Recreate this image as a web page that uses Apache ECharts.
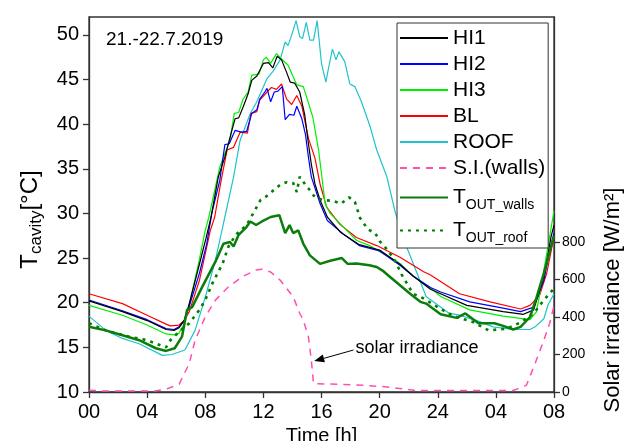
<!DOCTYPE html>
<html><head><meta charset="utf-8">
<script src="https://cdn.jsdelivr.net/npm/echarts@6/dist/echarts.min.js"></script>
<style>html,body{margin:0;padding:0;background:#fff}#c{width:628px;height:441px}</style>
</head><body><div id="c"></div>
<script>
const xTickLabels = ['00','04','08','12','16','20','24','04','08'];
const leftTicks = [10,15,20,25,30,35,40,45,50];
const rightTicks = [0,200,400,600,800];
const dateLabel = '21.-22.7.2019';
const annotText = 'solar irradiance';
const arrowTip = [15.5, 165];
const arrowTail = [18.2, 224];

const hi1 = [[0,20.2],[2.3,19.0],[4,18.0],[5.3,17.0],[5.85,16.9],[6.2,17.2],[6.55,18.0],[6.9,19.9],[7.55,24.0],[8.05,27.2],[8.4,29.6],[8.9,34.1],[9.35,36.3],[9.8,39.1],[10.05,40.6],[10.3,40.7],[10.6,41.9],[10.95,43.4],[11.2,44.9],[11.55,45.4],[12.0,46.8],[12.35,46.9],[12.65,46.3],[12.95,47.6],[13.25,47.2],[13.6,45.8],[13.85,44.7],[14.15,44.6],[14.5,43.6],[14.85,41.0],[15.1,37.8],[15.3,35.5],[15.55,33.3],[15.9,31.5],[16.4,29.6],[17.3,27.9],[18.6,26.5],[20.0,25.9],[21.4,24.3],[22.3,23.0],[23.5,21.5],[24.2,21.0],[26.0,19.7],[28.5,19.0],[29.9,18.7],[30.6,19.2],[31.3,22.9],[31.8,27.4],[32,28.7]];
const hi2 = [[0,20.3],[2.3,19.1],[4,18.1],[5.3,17.1],[5.85,17.0],[6.2,17.3],[6.55,18.0],[6.9,19.6],[7.6,23.3],[8.1,26.6],[8.45,30.0],[9.0,33.7],[9.35,37.7],[9.65,37.8],[10.05,39.3],[10.5,39.1],[10.85,39.2],[11.2,41.2],[11.55,41.6],[11.75,42.8],[12.1,43.6],[12.25,44.0],[12.5,42.5],[12.75,43.6],[13.0,43.7],[13.3,44.2],[13.5,40.5],[13.8,41.1],[14.1,41.0],[14.3,42.0],[14.65,40.6],[14.9,38.8],[15.1,36.3],[15.3,34.1],[15.9,31.1],[16.4,29.2],[17.5,27.7],[18.6,26.4],[20.0,25.8],[21.4,24.2],[22.3,23.0],[23.5,21.7],[24.2,21.2],[26.2,20.1],[28.5,19.4],[29.7,19.0],[30.6,19.5],[31.3,22.5],[31.8,26.5],[32,27.8]];
const hi3 = [[0,19.7],[2.3,18.6],[4,17.5],[5.3,16.5],[5.85,16.4],[6.2,16.6],[6.55,17.6],[6.9,19.8],[7.55,24.5],[8.0,28.1],[8.25,29.6],[9.0,35.2],[9.7,38.2],[10.0,41.2],[10.3,41.3],[10.6,42.8],[10.95,43.6],[11.2,45.5],[11.7,45.6],[12.0,47.2],[12.2,47.5],[12.5,46.8],[12.9,47.9],[13.25,47.3],[13.7,46.6],[14.05,45.3],[14.3,44.4],[14.75,44.2],[15.4,40.8],[15.8,37.1],[16.25,31.1],[16.6,30.0],[17.5,28.5],[18.4,27.0],[19.3,26.4],[21.4,24.4],[22.3,23.0],[23.7,21.4],[24.2,20.7],[26.2,19.2],[28.5,18.5],[30.35,18.1],[30.8,19.0],[31.3,23.6],[31.7,27.4],[32,30.3]];
const bl = [[0,21.0],[2.3,19.9],[4,18.6],[5.3,17.6],[5.6,17.4],[6.2,17.5],[6.55,18.0],[6.9,19.0],[7.6,22.5],[8.35,28.1],[8.65,29.6],[9.05,33.3],[9.5,37.1],[9.95,37.4],[10.4,39.1],[10.9,39.0],[11.15,41.2],[11.55,41.4],[11.75,42.7],[12.25,43.6],[12.55,44.1],[12.9,43.9],[13.25,44.5],[13.6,42.8],[13.95,42.2],[14.3,43.2],[14.65,42.0],[15.1,38.4],[15.55,36.2],[15.9,33.3],[16.35,30.7],[17.25,28.8],[18.4,27.3],[19.8,26.4],[21.4,25.1],[23.0,23.5],[23.5,23.1],[25.5,21.0],[27.6,20.1],[29.7,19.3],[30.35,19.7],[31.0,20.8],[31.5,23.3],[31.9,26.6],[32,27.2]];
const roof = [[0,18.5],[1.15,16.9],[2.3,16.0],[3.45,15.4],[5.05,14.1],[5.7,14.2],[6.6,14.7],[7.3,16.9],[8.0,20.6],[8.7,24.8],[9.15,28.1],[9.35,29.6],[9.95,34.1],[10.4,38.2],[11.1,41.2],[11.55,42.5],[12.25,45.1],[12.7,46.0],[13.15,47.2],[13.5,49.2],[13.7,48.8],[13.95,50.0],[14.25,51.6],[14.5,49.8],[14.7,49.6],[14.95,51.4],[15.2,49.4],[15.45,49.4],[15.7,51.6],[16.0,46.8],[16.3,44.7],[16.5,46.4],[16.75,48.4],[17.0,47.2],[17.2,48.1],[17.6,47.0],[17.95,44.5],[18.3,44.2],[18.75,42.5],[19.35,39.7],[19.8,37.1],[20.5,34.1],[21.05,30.3],[21.6,27.3],[22.5,23.6],[23.2,20.7],[24.8,18.8],[25.5,18.6],[26.7,18.0],[27.8,17.3],[29.2,17.0],[30.35,17.0],[30.7,17.3],[31.3,18.2],[31.6,19.8],[32,21.0]];
const solarWalls = [[0,10],[1,5],[4.5,5],[5.3,15],[6.2,41],[6.9,152],[7.3,276],[8.0,401],[8.7,490],[9.6,561],[10.55,615],[11.5,651],[11.9,655],[12.5,640],[13.15,597],[14.05,508],[14.5,420],[14.75,383],[15.1,294],[15.3,170],[15.45,45],[17.5,40],[19.0,35],[20.5,27],[22.5,8],[29.2,8],[30.1,36],[30.7,152],[31.3,276],[31.7,366],[32,460]];
const tOutWalls = [[0,17.3],[1.15,16.9],[2.3,16.35],[3.45,15.8],[4.6,14.9],[5.3,14.6],[5.9,14.9],[6.4,16.2],[6.75,19.2],[7.1,19.5],[7.8,21.8],[8.7,24.6],[9.25,26.6],[9.7,26.8],[9.95,26.3],[10.3,27.6],[10.85,28.5],[11.1,29.1],[11.5,28.7],[11.9,29.1],[12.5,29.6],[13.1,29.8],[13.5,27.8],[13.8,28.7],[14.05,27.8],[14.4,28.1],[14.75,26.6],[15.2,25.3],[15.9,24.35],[16.6,24.7],[17.4,25.0],[17.8,24.35],[18.4,24.4],[19.3,24.2],[19.8,24.0],[20.2,23.6],[20.7,22.9],[22.1,21.0],[22.8,20.1],[23.2,19.9],[24.2,18.7],[25.3,18.3],[25.9,18.8],[26.8,17.7],[27.9,17.7],[28.5,17.4],[29.2,17.0],[29.7,17.3],[30.35,18.4],[30.8,20.6],[31.3,23.3],[31.8,26.3],[32,27.5]];
const tOutRoof = [[0,17.7],[1.15,16.9],[2.75,16.2],[4.0,15.8],[5.3,15.0],[5.6,15.8],[6.3,16.9],[6.9,17.7],[7.6,19.2],[8.0,20.3],[8.5,22.2],[9.2,24.4],[9.6,26.3],[10.1,27.6],[10.85,28.7],[11.3,30.0],[11.8,31.5],[12.2,31.9],[12.7,32.6],[13.15,33.2],[13.6,33.5],[14.05,33.4],[14.3,32.4],[14.5,34.1],[14.9,33.2],[15.2,32.6],[15.55,31.8],[16.1,31.5],[16.8,31.4],[17.35,31.1],[17.9,31.8],[18.3,31.3],[18.65,29.5],[19.2,28.2],[19.7,27.8],[20.0,26.9],[20.5,26.0],[21.1,24.6],[21.5,23.2],[22.3,21.0],[23.0,20.5],[24.2,19.3],[25.1,18.5],[26.4,17.85],[27.5,16.9],[28.75,17.1],[29.7,17.8],[30.6,18.8],[31.3,20.3],[31.9,21.4],[32,21.7]];

const FONT = "'Liberation Sans', Arial, sans-serif";
const legendNames = {
  'TOUT_walls': '{b|T}{s|OUT_walls}',
  'TOUT_roof': '{b|T}{s|OUT_roof}'
};

function line(name, data, color, width, type, yIndex) {
  return {
    name: name, type: 'line', data: data, yAxisIndex: yIndex || 0,
    symbol: 'none', showSymbol: false, smooth: false,
    lineStyle: {color: color, width: width, type: type || 'solid', cap: 'butt'},
    itemStyle: {color: color},
    emphasis: {disabled: true}
  };
}

const chart = echarts.init(document.getElementById('c'));
chart.setOption({
  animation: false,
  backgroundColor: '#fff',
  textStyle: {fontFamily: FONT},
  grid: {left: 89, right: 74, top: 17, bottom: 49, containLabel: false, outerBoundsMode: 'none',
    show: true, borderColor: '#333', borderWidth: 1.3, backgroundColor: 'transparent'},
  legend: {
    orient: 'vertical', left: 397, top: 23,
    padding: [4, 3, 3, 2], itemGap: 4,
    itemWidth: 48, itemHeight: 14,
    borderColor: '#333', borderWidth: 1, backgroundColor: '#fff',
    itemStyle: {opacity: 0, borderWidth: 0},
    data: ['HI1','HI2','HI3','BL','ROOF','S.I.(walls)','TOUT_walls','TOUT_roof'],
    formatter: function (n) { return legendNames[n] || n; },
    textStyle: {
      fontFamily: FONT, fontSize: 21, color: '#000', lineHeight: 22,
      rich: {
        b: {fontFamily: FONT, fontSize: 21, color: '#000', lineHeight: 22},
        s: {fontFamily: FONT, fontSize: 14, color: '#000', lineHeight: 14, padding: [15, 0, 0, 0]}
      }
    },
    selectedMode: false
  },
  xAxis: {
    type: 'value', min: 0, max: 32, interval: 4,
    name: 'Time [h]', nameLocation: 'middle', nameGap: 33,
    nameTextStyle: {fontFamily: FONT, fontSize: 20, color: '#000'},
    axisLine: {lineStyle: {color: '#333', width: 1.3}},
    axisTick: {show: true, inside: false, length: 6, lineStyle: {color: '#333', width: 1.3}},
    axisLabel: {fontFamily: FONT, fontSize: 20, color: '#000', margin: 10,
      formatter: function (v) { return xTickLabels[Math.round(v / 4)]; }},
    splitLine: {show: false}
  },
  yAxis: [{
    type: 'value', min: 10, max: 52, interval: 5, position: 'left',
    name: '{t|T}{s|cavity}{t|[°C]}', nameLocation: 'middle', nameGap: 46,
    nameTextStyle: {
      fontFamily: FONT, color: '#000', padding: [0, 30, 0, 0],
      rich: {
        t: {fontFamily: FONT, fontSize: 24, color: '#000', lineHeight: 26},
        s: {fontFamily: FONT, fontSize: 17, color: '#000', lineHeight: 17, padding: [13, 0, 0, 0]}
      }
    },
    axisLine: {show: true, lineStyle: {color: '#333', width: 1.3}},
    axisTick: {show: true, inside: false, length: 6, customValues: leftTicks, lineStyle: {color: '#333', width: 1.3}},
    axisLabel: {fontFamily: FONT, fontSize: 20, color: '#000', margin: 10, customValues: leftTicks,
      formatter: function (v) { return leftTicks.indexOf(v) >= 0 ? String(v) : ''; }},
    splitLine: {show: false}
  }, {
    type: 'value', min: 0, max: 2000, interval: 200, position: 'right',
    axisLine: {show: true, lineStyle: {color: '#333', width: 1.3}},
    axisTick: {show: true, inside: false, length: 6, customValues: rightTicks, lineStyle: {color: '#333', width: 1.3}},
    axisLabel: {fontFamily: FONT, fontSize: 14, color: '#000', margin: 8, customValues: rightTicks,
      formatter: function (v) { return rightTicks.indexOf(v) >= 0 ? String(v) : ''; }},
    splitLine: {show: false}
  }],
  series: [
    line('S.I.(walls)', solarWalls, '#ff4fb0', 1.5, [7, 6], 1),
    line('ROOF', roof, '#1fc3cc', 1.2),
    line('BL', bl, '#ff0000', 1.2),
    line('HI3', hi3, '#00ee00', 1.2),
    line('HI2', hi2, '#0000ff', 1.2),
    line('HI1', hi1, '#000000', 1.2),
    line('TOUT_roof', tOutRoof, '#008000', 2.6, [3, 5]),
    line('TOUT_walls', tOutWalls, '#0a7d0a', 2.5)
  ]
});

const tip = chart.convertToPixel({xAxisIndex: 0, yAxisIndex: 1}, arrowTip);
const tail = chart.convertToPixel({xAxisIndex: 0, yAxisIndex: 1}, arrowTail);
const ang = Math.atan2(tip[1] - tail[1], tip[0] - tail[0]);
const hl = 10, hw = 4;
const bx = tip[0] - hl * Math.cos(ang), by = tip[1] - hl * Math.sin(ang);
const px = -Math.sin(ang) * hw, py = Math.cos(ang) * hw;
const leftTop = chart.convertToPixel({xAxisIndex: 0, yAxisIndex: 0}, [0, 52]);

chart.setOption({
  graphic: [
    {type: 'text', x: leftTop[0] + 17, y: 40, style: {text: dateLabel, fontFamily: FONT, fontSize: 19, fill: '#000', verticalAlign: 'middle'}},
    {type: 'line', shape: {x1: tail[0], y1: tail[1], x2: bx, y2: by}, style: {stroke: '#000', lineWidth: 1}},
    {type: 'polygon', shape: {points: [[tip[0], tip[1]], [bx + px, by + py], [bx - px, by - py]]}, style: {fill: '#000'}},
    {type: 'text', x: tail[0] + 2, y: tail[1] - 2, style: {text: annotText, fontFamily: FONT, fontSize: 18, fill: '#000', verticalAlign: 'middle'}},
    {type: 'text', x: 613, y: 300, rotation: Math.PI / 2, style: {text: 'Solar irradiance [W/m²]', fontFamily: FONT, fontSize: 22, fill: '#000', align: 'center', verticalAlign: 'middle'}}
  ]
});
</script>
</body></html>
